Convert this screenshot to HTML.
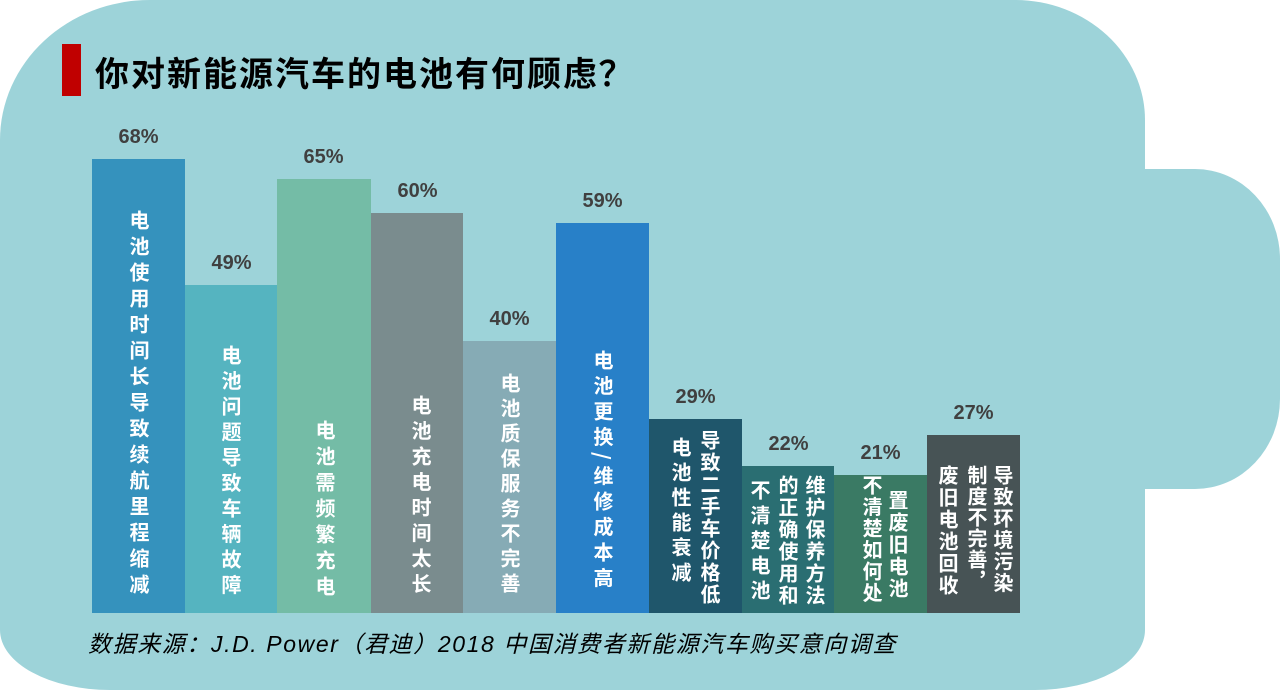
<!DOCTYPE html>
<html><head><meta charset="utf-8"><style>
body{margin:0;width:1280px;height:687px;background:#fff;position:relative;overflow:hidden;font-family:"Liberation Sans","Noto Sans CJK SC",sans-serif}
.shape{position:absolute;background:#9dd3d9}
.bar{position:absolute}
.lbl{position:absolute;width:93px;text-align:center;font-weight:bold;font-size:20px;color:#404040}
.col{position:absolute;writing-mode:vertical-rl;color:#fff;font-weight:bold;font-size:20px;line-height:20px;letter-spacing:5px;font-family:"Noto Sans CJK SC",sans-serif}
</style></head><body>
<div class="shape" style="left:0;top:0;width:1145px;height:690px;border-radius:150px 130px 110px 110px/140px 120px 60px 60px"></div>
<div class="shape" style="left:1100px;top:169px;width:180px;height:320px;border-radius:0 85px 85px 0/0 90px 90px 0"></div>
<div style="position:absolute;left:62px;top:44px;width:19px;height:52px;background:#c00000"></div>
<div style="position:absolute;left:95px;top:50px;font-size:34px;line-height:44px;font-weight:bold;letter-spacing:2px;color:#000;font-family:'Noto Sans CJK SC',sans-serif">你对新能源汽车的电池有何顾虑<span style="font-family:'WenQuanYi Zen Hei',sans-serif">？</span></div>

<div class="bar" style="left:92px;top:159px;width:93px;height:454px;background:#3592bd"></div>
<div class="bar" style="left:185px;top:285px;width:92px;height:328px;background:#55b4c0"></div>
<div class="bar" style="left:277px;top:179px;width:94px;height:434px;background:#74bca6"></div>
<div class="bar" style="left:371px;top:213px;width:92px;height:400px;background:#7a8c8e"></div>
<div class="bar" style="left:463px;top:341px;width:93px;height:272px;background:#86abb5"></div>
<div class="bar" style="left:556px;top:223px;width:93px;height:390px;background:#2880c8"></div>
<div class="bar" style="left:649px;top:419px;width:93px;height:194px;background:#1f566b"></div>
<div class="bar" style="left:742px;top:466px;width:92px;height:147px;background:#2a6e72"></div>
<div class="bar" style="left:834px;top:475px;width:93px;height:138px;background:#3a7a64"></div>
<div class="bar" style="left:927px;top:435px;width:93px;height:178px;background:#475355"></div>

<div class="lbl" style="left:92px;top:126px">68%</div>
<div class="lbl" style="left:185px;top:252px">49%</div>
<div class="lbl" style="left:277px;top:146px">65%</div>
<div class="lbl" style="left:371px;top:180px">60%</div>
<div class="lbl" style="left:463px;top:308px">40%</div>
<div class="lbl" style="left:556px;top:190px">59%</div>
<div class="lbl" style="left:649px;top:386px">29%</div>
<div class="lbl" style="left:742px;top:433px">22%</div>
<div class="lbl" style="left:834px;top:442px">21%</div>
<div class="lbl" style="left:927px;top:402px">27%</div>

<div class="col" style="left:129px;top:210px;letter-spacing:6px">电池使用时间长导致续航里程缩减</div>
<div class="col" style="left:221px;top:345px;letter-spacing:5.5px">电池问题导致车辆故障</div>
<div class="col" style="left:315px;top:420px;letter-spacing:6px">电池需频繁充电</div>
<div class="col" style="left:411px;top:395px;letter-spacing:5.5px">电池充电时间太长</div>
<div class="col" style="left:500px;top:373px;letter-spacing:5px">电池质保服务不完善</div>
<div class="col" style="left:593px;top:350px;letter-spacing:5.5px">电池更换/维修成本高</div>
<div class="col" style="left:671px;top:437px;letter-spacing:5px">电池性能衰减</div>
<div class="col" style="left:700px;top:430px;letter-spacing:2px">导致二手车价格低</div>
<div class="col" style="left:750px;top:480px;letter-spacing:5px">不清楚电池</div>
<div class="col" style="left:778px;top:475px;letter-spacing:2px">的正确使用和</div>
<div class="col" style="left:805px;top:475px;letter-spacing:2px">维护保养方法</div>
<div class="col" style="left:862px;top:475px;letter-spacing:1.5px">不清楚如何处</div>
<div class="col" style="left:888px;top:490px;letter-spacing:2px">置废旧电池</div>
<div class="col" style="left:938px;top:465px;letter-spacing:2px">废旧电池回收</div>
<div class="col" style="left:967px;top:465px;letter-spacing:1px">制度不完善，</div>
<div class="col" style="left:993px;top:465px;letter-spacing:1.5px">导致环境污染</div>

<div style="position:absolute;left:88px;top:629px;font-size:23px;line-height:30px;font-style:italic;color:#000;letter-spacing:1.6px;font-family:'Liberation Sans','WenQuanYi Zen Hei',sans-serif">数据来源：J.D. Power（君迪）2018 中国消费者新能源汽车购买意向调查</div>
</body></html>
